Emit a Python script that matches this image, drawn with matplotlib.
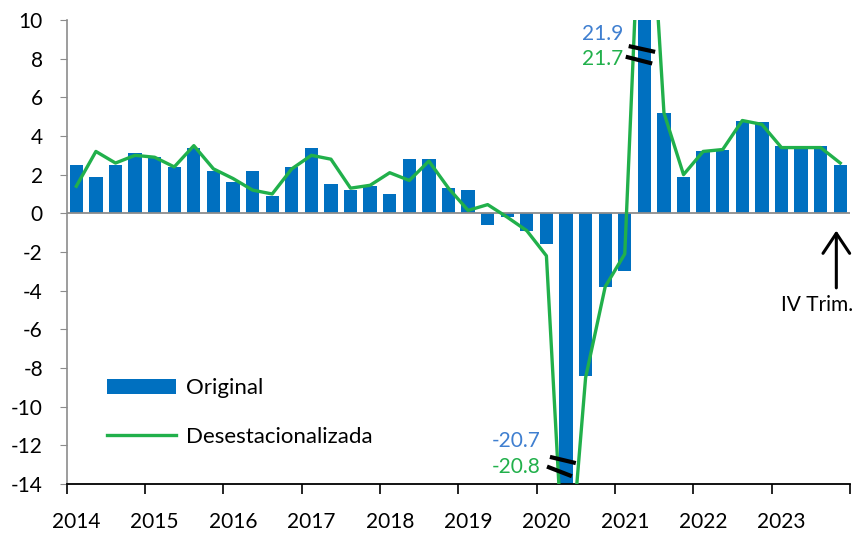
import numpy as np
import matplotlib
matplotlib.use('Agg')
import matplotlib.pyplot as plt
from matplotlib.patches import Patch
from matplotlib.lines import Line2D

plt.rcParams['font.family'] = ['Lato', 'DejaVu Sans']

years = ['2014', '2015', '2016', '2017', '2018', '2019', '2020', '2021', '2022', '2023']
original = [2.5, 1.9, 2.5, 3.1, 2.9, 2.4, 3.4, 2.2, 1.6, 2.2,
            0.9, 2.4, 3.4, 1.5, 1.2, 1.4, 1.0, 2.8, 2.8, 1.3,
            1.2, -0.6, -0.2, -0.9, -1.6, -20.7, -8.4, -3.8, -3.0, 21.9,
            5.2, 1.9, 3.2, 3.3, 4.8, 4.7, 3.5, 3.4, 3.5, 2.5]
desest = [1.4, 3.2, 2.6, 3.0, 2.9, 2.4, 3.5, 2.3, 1.8, 1.2,
          1.0, 2.3, 3.0, 2.8, 1.3, 1.45, 2.1, 1.7, 2.7, 1.3,
          0.15, 0.45, -0.2, -0.9, -2.2, -20.8, -8.5, -3.8, -2.1, 21.7,
          5.2, 2.0, 3.2, 3.3, 4.8, 4.6, 3.4, 3.4, 3.4, 2.6]

blue = '#0070c0'
green = '#21b04b'
lblue = '#3f7fd0'
fs = 15

x = np.arange(len(original))
ymin, ymax = -14, 10

fig = plt.figure(figsize=(8.65, 5.33), dpi=100)
ax = fig.add_axes([0.0769, 0.092, 0.9058, 0.8705])

ax.bar(x, original, width=0.68, color=blue, zorder=2)
ax.axhline(0, color='#8c8c8c', lw=1.3, zorder=2.5)
ax.plot(x, desest, color=green, lw=2.4, zorder=3, solid_joinstyle='round')

ax.set_xlim(-0.5, len(x) - 0.5)
ax.set_ylim(ymin, ymax)
ax.set_yticks(np.arange(ymin, ymax + 1, 2))
ax.set_yticklabels([str(v) for v in range(ymin, ymax + 1, 2)])
ax.set_xticks(np.arange(-0.5, len(x), 4))
ax.set_xticklabels([])
ax.set_xticks(np.arange(0, len(x), 4), minor=True)
ax.set_xticklabels(years, minor=True)
ax.tick_params(axis='x', which='major', direction='out', length=7, width=1.2, color='black')
ax.tick_params(axis='x', which='minor', length=0, pad=20, labelsize=fs)
ax.tick_params(axis='y', direction='out', length=5, color='#8c8c8c', labelsize=fs, pad=12)

for s in ['top', 'right']:
    ax.spines[s].set_visible(False)
ax.spines['left'].set_color('#8c8c8c')
ax.spines['left'].set_linewidth(1.2)
ax.spines['bottom'].set_color('black')
ax.spines['bottom'].set_linewidth(1.3)

# valores fuera de escala
imax = int(np.argmax(original))
imin = int(np.argmin(original))
ax.text(imax - 1.1, 9.25, f'{original[imax]:.1f}', color=lblue, fontsize=fs, ha='right', va='center', zorder=5)
ax.text(imax - 1.1, 8.0, f'{desest[imax]:.1f}', color=green, fontsize=fs, ha='right', va='center', zorder=5)
ax.plot([imax - 0.8, imax + 0.55], [8.65, 8.35], color='black', lw=3, zorder=4, solid_capstyle='butt')
ax.plot([imax - 0.95, imax + 0.4], [8.1, 7.75], color='black', lw=3, zorder=4, solid_capstyle='butt')

ax.text(imin - 1.3, -11.8, f'{original[imin]:.1f}', color=lblue, fontsize=fs, ha='right', va='center', zorder=5)
ax.text(imin - 1.3, -13.1, f'{desest[imin]:.1f}', color=green, fontsize=fs, ha='right', va='center', zorder=5)
ax.plot([imin - 0.82, imin + 0.5], [-12.6, -12.92], color='black', lw=3, zorder=4, solid_capstyle='butt')
ax.plot([imin - 0.97, imin + 0.3], [-13.1, -13.6], color='black', lw=3, zorder=4, solid_capstyle='butt')

# ultimo trimestre
last = len(x) - 1
ax.annotate('', xy=(last - 0.2, -0.75), xytext=(last - 0.2, -4.0),
            arrowprops=dict(arrowstyle='->, head_width=0.3, head_length=0.45',
                            color='black', lw=2.2, mutation_scale=32),
            annotation_clip=False)
ax.text(last + 0.65, -4.75, 'IV Trim.', fontsize=fs, ha='right', va='center', clip_on=False)

handles = [Patch(facecolor=blue, edgecolor='none'),
           Line2D([0], [0], color=green, lw=2.4)]
ax.legend(handles, ['Original', 'Desestacionalizada'], loc='upper left',
          bbox_to_anchor=(0.037, 0.252), frameon=False, fontsize=16,
          handlelength=3.1, handletextpad=0.45, labelspacing=1.3, borderpad=0)

fig.savefig('out.png', dpi=100)
